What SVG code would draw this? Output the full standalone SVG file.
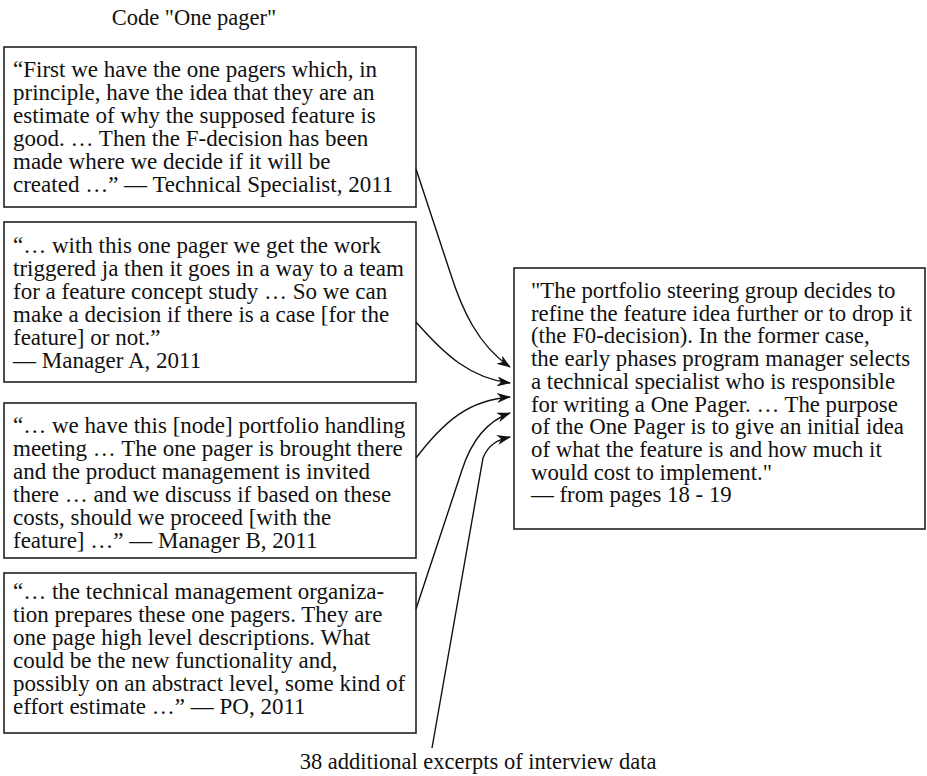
<svg xmlns="http://www.w3.org/2000/svg" width="927" height="776" viewBox="0 0 927 776">
  <style>
    .box { fill: #ffffff; stroke: #222222; stroke-width: 1.6; }
    .txt { font-family: "Liberation Serif", "Times New Roman", serif; font-size: 23px; fill: #111111; }
    .doc { font-size: 22.8px; }
    .cap { font-size: 22.5px; }
    .link { fill: none; stroke: #111111; stroke-width: 1.4; marker-end: url(#head); }
  </style>
  <defs>
    <marker id="head" markerUnits="userSpaceOnUse" viewBox="0 0 14 10" refX="13" refY="5" markerWidth="14" markerHeight="10" orient="auto">
      <path d="M0,0 L14,5 L0,10 L4,5 Z" fill="#111111"/>
    </marker>
  </defs>

  <rect width="927" height="776" fill="#ffffff"/>

  <text class="txt cap" x="194" y="25" text-anchor="middle">Code "One pager"</text>

  <g id="quote-technical-specialist">
    <rect class="box" x="4" y="47" width="412" height="160"/>
    <text class="txt">
      <tspan x="13" y="77">“First we have the one pagers which, in</tspan>
      <tspan x="13" y="100">principle, have the idea that they are an</tspan>
      <tspan x="13" y="123">estimate of why the supposed feature is</tspan>
      <tspan x="13" y="146">good. … Then the F-decision has been</tspan>
      <tspan x="13" y="169">made where we decide if it will be</tspan>
      <tspan x="13" y="192">created …” — Technical Specialist, 2011</tspan>
    </text>
  </g>

  <g id="quote-manager-a">
    <rect class="box" x="4" y="222" width="412" height="160"/>
    <text class="txt">
      <tspan x="13" y="253">“… with this one pager we get the work</tspan>
      <tspan x="13" y="276">triggered ja then it goes in a way to a team</tspan>
      <tspan x="13" y="299">for a feature concept study … So we can</tspan>
      <tspan x="13" y="322">make a decision if there is a case [for the</tspan>
      <tspan x="13" y="345">feature] or not.”</tspan>
      <tspan x="13" y="368">— Manager A, 2011</tspan>
    </text>
  </g>

  <g id="quote-manager-b">
    <rect class="box" x="4" y="403" width="412" height="155"/>
    <text class="txt">
      <tspan x="13" y="433">“… we have this [node] portfolio handling</tspan>
      <tspan x="13" y="456">meeting … The one pager is brought there</tspan>
      <tspan x="13" y="479">and the product management is invited</tspan>
      <tspan x="13" y="502">there … and we discuss if based on these</tspan>
      <tspan x="13" y="525">costs, should we proceed [with the</tspan>
      <tspan x="13" y="548">feature] …” — Manager B, 2011</tspan>
    </text>
  </g>

  <g id="quote-po">
    <rect class="box" x="4" y="573" width="412" height="160"/>
    <text class="txt">
      <tspan x="13" y="599">“… the technical management organiza-</tspan>
      <tspan x="13" y="622">tion prepares these one pagers. They are</tspan>
      <tspan x="13" y="645">one page high level descriptions. What</tspan>
      <tspan x="13" y="668">could be the new functionality and,</tspan>
      <tspan x="13" y="691">possibly on an abstract level, some kind of</tspan>
      <tspan x="13" y="714">effort estimate …” — PO, 2011</tspan>
    </text>
  </g>

  <g id="document-excerpt">
    <rect class="box" x="514" y="268" width="411" height="261"/>
    <text class="txt doc">
      <tspan x="531" y="298">"The portfolio steering group decides to</tspan>
      <tspan x="531" y="320.7">refine the feature idea further or to drop it</tspan>
      <tspan x="531" y="343.4">(the F0-decision). In the former case,</tspan>
      <tspan x="531" y="366.1">the early phases program manager selects</tspan>
      <tspan x="531" y="388.8">a technical specialist who is responsible</tspan>
      <tspan x="531" y="411.5">for writing a One Pager. … The purpose</tspan>
      <tspan x="531" y="434.2">of the One Pager is to give an initial idea</tspan>
      <tspan x="531" y="456.9">of what the feature is and how much it</tspan>
      <tspan x="531" y="479.6">would cost to implement."</tspan>
      <tspan x="531" y="502.3">— from pages 18 - 19</tspan>
    </text>
  </g>

  <g id="additional-excerpts">
    <text class="txt cap" x="478" y="769" text-anchor="middle">38 additional excerpts of interview data</text>
  </g>

  <g id="connectors">
    <path class="link" d="M416,169 L450,272 C462,310 478,345 510,367"/>
    <path class="link" d="M416,322 C445,355 470,378 510,383"/>
    <path class="link" d="M416,458 C445,420 470,400 510,397"/>
    <path class="link" d="M416,609 L462,470 C470,445 485,422 510,413"/>
    <path class="link" d="M432,748 L483,458 C488,445 497,440 510,437"/>
  </g>
</svg>
